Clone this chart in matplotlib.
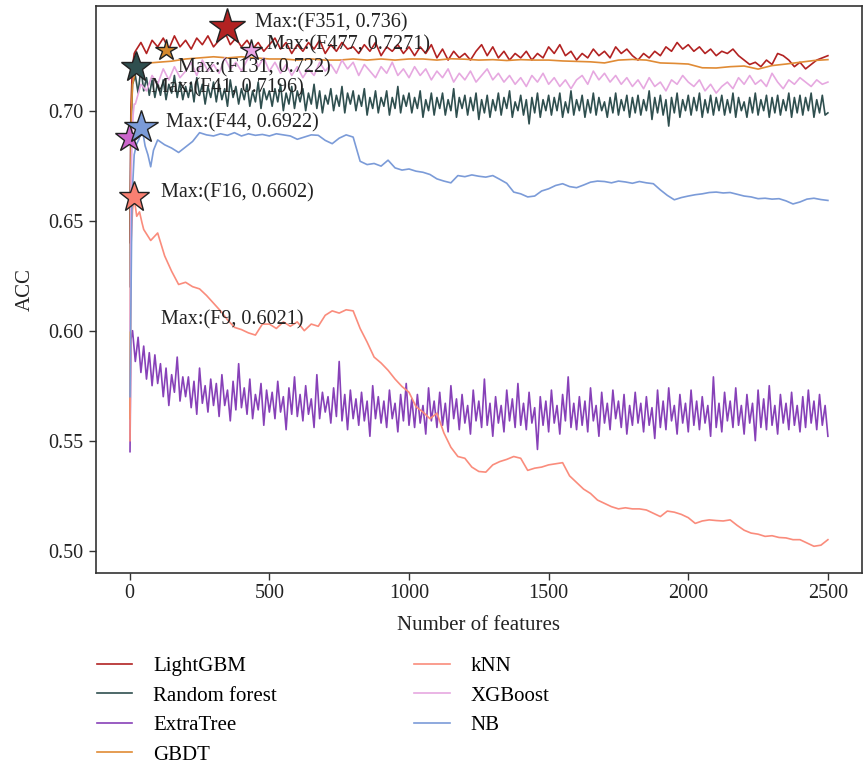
import matplotlib
matplotlib.use('Agg')
import matplotlib.pyplot as plt

plt.rcParams['font.family'] = ['Liberation Serif', 'DejaVu Serif']

# Feature counts (x) for every model
feat_dense = [1, 4] + list(range(10, 2501, 10))
feat_mid = [1, 4, 8, 12, 16] + list(range(20, 2501, 20))
feat_gbdt = [1, 3, 6, 10, 20] + list(range(50, 2501, 50))
feat_nb = [1, 8, 16, 25, 33, 44, 55, 65, 75, 85] + list(range(100, 2501, 25))
feat_knn = [1, 5, 10, 16, 25, 35, 44] + list(range(50, 2501, 25))

# ACC
acc_lightgbm = [0.640, 0.700, 0.715, 0.722, 0.726,
    0.727, 0.731, 0.726, 0.732, 0.729, 0.733, 0.728, 0.734, 0.729, 0.732,
    0.728, 0.733, 0.730, 0.734, 0.729, 0.732, 0.736, 0.730, 0.733, 0.729,
    0.732, 0.728, 0.731, 0.727, 0.730, 0.733, 0.728, 0.731, 0.726, 0.730,
    0.727, 0.731, 0.728, 0.732, 0.726, 0.730, 0.727, 0.731, 0.728, 0.729,
    0.726, 0.730, 0.727, 0.731, 0.725, 0.729, 0.727, 0.730, 0.726, 0.729,
    0.725, 0.729, 0.726, 0.730, 0.724, 0.728, 0.723, 0.727, 0.724, 0.726,
    0.723, 0.727, 0.730, 0.725, 0.729, 0.724, 0.727, 0.723, 0.726, 0.724,
    0.727, 0.723, 0.726, 0.724, 0.729, 0.726, 0.730, 0.725, 0.727, 0.723,
    0.726, 0.724, 0.728, 0.725, 0.727, 0.724, 0.729, 0.726, 0.728, 0.725,
    0.723, 0.726, 0.724, 0.727, 0.725, 0.729, 0.727, 0.731, 0.728, 0.730,
    0.727, 0.729, 0.726, 0.728, 0.725, 0.727, 0.726, 0.728, 0.725, 0.723,
    0.721, 0.722, 0.720, 0.723, 0.721, 0.726, 0.725, 0.723, 0.720, 0.722,
    0.719, 0.721, 0.723, 0.724, 0.725]

acc_rf = [0.620, 0.690,
    0.712, 0.716, 0.708, 0.7196, 0.709, 0.715, 0.707, 0.714, 0.706, 0.713,
    0.707, 0.714, 0.705, 0.712, 0.708, 0.716, 0.706, 0.713, 0.705, 0.711,
    0.706, 0.713, 0.704, 0.715, 0.707, 0.712, 0.703, 0.711, 0.706, 0.713,
    0.704, 0.712, 0.705, 0.710, 0.702, 0.714, 0.706, 0.711, 0.703, 0.710,
    0.705, 0.712, 0.702, 0.709, 0.704, 0.713, 0.701, 0.710, 0.705, 0.709,
    0.702, 0.710, 0.704, 0.712, 0.700, 0.708, 0.703, 0.711, 0.701, 0.709,
    0.704, 0.710, 0.700, 0.708, 0.703, 0.712, 0.701, 0.709, 0.699, 0.707,
    0.703, 0.710, 0.700, 0.707, 0.702, 0.711, 0.699, 0.708, 0.703, 0.709,
    0.700, 0.707, 0.702, 0.710, 0.698, 0.706, 0.701, 0.709, 0.699, 0.706,
    0.702, 0.709, 0.698, 0.706, 0.701, 0.711, 0.699, 0.707, 0.702, 0.708,
    0.699, 0.706, 0.701, 0.709, 0.697, 0.705, 0.700, 0.708, 0.698, 0.706,
    0.701, 0.708, 0.698, 0.705, 0.700, 0.710, 0.697, 0.706, 0.701, 0.707,
    0.698, 0.706, 0.700, 0.708, 0.696, 0.705, 0.699, 0.707, 0.697, 0.705,
    0.700, 0.708, 0.698, 0.706, 0.701, 0.709, 0.697, 0.704, 0.700, 0.707,
    0.698, 0.705, 0.694, 0.706, 0.699, 0.708, 0.697, 0.705, 0.700, 0.707,
    0.698, 0.706, 0.700, 0.708, 0.697, 0.704, 0.699, 0.709, 0.698, 0.705,
    0.700, 0.707, 0.697, 0.705, 0.699, 0.708, 0.698, 0.706, 0.700, 0.704,
    0.697, 0.706, 0.699, 0.708, 0.698, 0.705, 0.700, 0.707, 0.697, 0.706,
    0.699, 0.707, 0.698, 0.705, 0.700, 0.709, 0.696, 0.706, 0.699, 0.707,
    0.698, 0.705, 0.693, 0.706, 0.699, 0.708, 0.697, 0.705, 0.700, 0.707,
    0.698, 0.706, 0.700, 0.708, 0.697, 0.705, 0.699, 0.707, 0.698, 0.706,
    0.700, 0.707, 0.698, 0.705, 0.699, 0.708, 0.697, 0.706, 0.700, 0.704,
    0.697, 0.706, 0.699, 0.708, 0.698, 0.705, 0.700, 0.707, 0.697, 0.706,
    0.699, 0.707, 0.698, 0.705, 0.700, 0.708, 0.697, 0.706, 0.699, 0.707,
    0.698, 0.706, 0.700, 0.708, 0.697, 0.705, 0.699, 0.707, 0.698, 0.699]

acc_extratree = [0.545, 0.596,
    0.600, 0.586, 0.597, 0.581, 0.593, 0.578, 0.590, 0.575, 0.589, 0.576,
    0.585, 0.570, 0.583, 0.566, 0.580, 0.572, 0.588, 0.568, 0.579, 0.570,
    0.579, 0.565, 0.577, 0.562, 0.583, 0.567, 0.575, 0.563, 0.578, 0.566,
    0.576, 0.561, 0.580, 0.566, 0.573, 0.559, 0.577, 0.564, 0.585, 0.565,
    0.574, 0.562, 0.578, 0.560, 0.571, 0.564, 0.576, 0.557, 0.573, 0.563,
    0.572, 0.560, 0.577, 0.563, 0.570, 0.555, 0.574, 0.562, 0.579, 0.561,
    0.571, 0.559, 0.575, 0.562, 0.569, 0.556, 0.580, 0.560, 0.572, 0.563,
    0.570, 0.558, 0.574, 0.561, 0.586, 0.559, 0.571, 0.555, 0.573, 0.560,
    0.569, 0.557, 0.572, 0.559, 0.568, 0.552, 0.575, 0.560, 0.570, 0.558,
    0.568, 0.556, 0.573, 0.560, 0.567, 0.554, 0.571, 0.559, 0.576, 0.557,
    0.569, 0.556, 0.571, 0.558, 0.566, 0.553, 0.574, 0.559, 0.568, 0.556,
    0.572, 0.557, 0.567, 0.554, 0.575, 0.560, 0.569, 0.555, 0.571, 0.558,
    0.566, 0.553, 0.573, 0.559, 0.568, 0.556, 0.578, 0.557, 0.567, 0.552,
    0.570, 0.558, 0.566, 0.554, 0.573, 0.559, 0.569, 0.556, 0.576, 0.557,
    0.567, 0.555, 0.572, 0.558, 0.565, 0.546, 0.570, 0.557, 0.568, 0.554,
    0.573, 0.558, 0.566, 0.553, 0.571, 0.559, 0.579, 0.556, 0.567, 0.555,
    0.570, 0.557, 0.568, 0.554, 0.574, 0.559, 0.566, 0.552, 0.572, 0.558,
    0.567, 0.555, 0.573, 0.560, 0.568, 0.556, 0.571, 0.553, 0.566, 0.557,
    0.572, 0.558, 0.567, 0.554, 0.570, 0.557, 0.565, 0.551, 0.573, 0.556,
    0.568, 0.555, 0.574, 0.559, 0.566, 0.553, 0.571, 0.558, 0.567, 0.554,
    0.573, 0.557, 0.568, 0.555, 0.570, 0.558, 0.566, 0.552, 0.579, 0.556,
    0.567, 0.554, 0.572, 0.559, 0.568, 0.556, 0.574, 0.557, 0.566, 0.553,
    0.571, 0.558, 0.567, 0.550, 0.573, 0.556, 0.569, 0.555, 0.575, 0.557,
    0.566, 0.553, 0.571, 0.558, 0.567, 0.555, 0.572, 0.557, 0.566, 0.554,
    0.570, 0.556, 0.573, 0.558, 0.568, 0.555, 0.571, 0.557, 0.566, 0.552]

acc_gbdt = [0.560, 0.660, 0.700, 0.712, 0.718,
    0.7215, 0.7220, 0.7225, 0.7235, 0.7240, 0.7245, 0.7240, 0.7245, 0.7240, 0.7235,
    0.7235, 0.7230, 0.7235, 0.7230, 0.7230, 0.7235, 0.7230, 0.7235, 0.7230, 0.7235,
    0.7235, 0.7230, 0.7236, 0.7234, 0.7230, 0.7232, 0.7228, 0.7232, 0.7230, 0.7230,
    0.7226, 0.7224, 0.7222, 0.7217, 0.7230, 0.7233, 0.7230, 0.7217, 0.7215, 0.7212,
    0.7195, 0.7194, 0.7200, 0.7203, 0.7189, 0.7205, 0.7212, 0.7220, 0.7228, 0.7232]

acc_knn = [0.550, 0.640, 0.655, 0.6602, 0.652, 0.654, 0.649,
    0.646, 0.641, 0.6444, 0.634, 0.627, 0.621, 0.622, 0.620, 0.619, 0.616,
    0.6125, 0.609, 0.605, 0.6015, 0.6005, 0.599, 0.598, 0.603, 0.603, 0.601,
    0.604, 0.602, 0.604, 0.600, 0.603, 0.602, 0.607, 0.609, 0.608, 0.6095,
    0.609, 0.601, 0.5948, 0.588, 0.5853, 0.582, 0.578, 0.5746, 0.572, 0.5655,
    0.563, 0.560, 0.5625, 0.5535, 0.547, 0.5428, 0.542, 0.538, 0.536, 0.5357,
    0.539, 0.5405, 0.5415, 0.5428, 0.542, 0.5365, 0.5375, 0.538, 0.539, 0.5395,
    0.540, 0.534, 0.531, 0.528, 0.526, 0.523, 0.5215, 0.520, 0.519, 0.5195,
    0.519, 0.519, 0.5185, 0.517, 0.5155, 0.518, 0.5175, 0.5165, 0.515, 0.5124,
    0.5135, 0.514, 0.5137, 0.5135, 0.514, 0.5115, 0.5093, 0.508, 0.5075, 0.5065,
    0.5068, 0.506, 0.5058, 0.505, 0.505, 0.5035, 0.502, 0.5025, 0.505]

acc_xgboost = [0.600, 0.660, 0.686, 0.698, 0.703,
    0.703, 0.712, 0.709, 0.716, 0.712, 0.719, 0.714, 0.720, 0.715, 0.718,
    0.722, 0.716, 0.723, 0.718, 0.721, 0.717, 0.724, 0.719, 0.722, 0.718,
    0.723, 0.7271, 0.720, 0.724, 0.718, 0.722, 0.717, 0.721, 0.716, 0.720,
    0.715, 0.719, 0.716, 0.722, 0.718, 0.721, 0.717, 0.723, 0.719, 0.722,
    0.716, 0.721, 0.718, 0.715, 0.720, 0.717, 0.722, 0.716, 0.719, 0.715,
    0.720, 0.716, 0.719, 0.714, 0.718, 0.715, 0.719, 0.713, 0.717, 0.714,
    0.718, 0.713, 0.716, 0.719, 0.714, 0.717, 0.713, 0.716, 0.712, 0.715,
    0.711, 0.716, 0.713, 0.717, 0.712, 0.715, 0.711, 0.714, 0.710, 0.714,
    0.716, 0.712, 0.718, 0.714, 0.717, 0.713, 0.716, 0.712, 0.715, 0.711,
    0.714, 0.710, 0.715, 0.711, 0.713, 0.709, 0.714, 0.712, 0.716, 0.713,
    0.711, 0.714, 0.709, 0.712, 0.708, 0.711, 0.713, 0.710, 0.715, 0.712,
    0.716, 0.712, 0.714, 0.711, 0.717, 0.713, 0.710, 0.714, 0.712, 0.715,
    0.713, 0.711, 0.714, 0.712, 0.713]

acc_nb = [0.570, 0.660, 0.680, 0.685, 0.687, 0.6922, 0.684, 0.680, 0.6745, 0.682,
    0.6867, 0.6845, 0.6830, 0.6810, 0.6835, 0.6860, 0.6900, 0.6890, 0.6885, 0.6895,
    0.6888, 0.6900, 0.6885, 0.6895, 0.6888, 0.6892, 0.6885, 0.6895, 0.6890, 0.6885,
    0.6870, 0.6880, 0.6890, 0.6888, 0.6865, 0.6850, 0.6875, 0.6890, 0.6880, 0.6770,
    0.6755, 0.6760, 0.6748, 0.6775, 0.6740, 0.6730, 0.6735, 0.6725, 0.6720, 0.6710,
    0.6690, 0.6680, 0.6672, 0.6705, 0.6700, 0.6708, 0.6702, 0.6698, 0.6705, 0.6688,
    0.6670, 0.6630, 0.6622, 0.6608, 0.6612, 0.6635, 0.6645, 0.6660, 0.6668, 0.6655,
    0.6650, 0.6662, 0.6675, 0.6680, 0.6678, 0.6672, 0.6680, 0.6676, 0.6670, 0.6678,
    0.6672, 0.6668, 0.6640, 0.6615, 0.6595, 0.6605, 0.6612, 0.6618, 0.6622, 0.6628,
    0.6630, 0.6626, 0.6628, 0.6620, 0.6612, 0.6608, 0.6600, 0.6602, 0.6598, 0.6600,
    0.6590, 0.6576, 0.6585, 0.6598, 0.6602, 0.6596, 0.6592]

model_names = ['LightGBM', 'Random forest', 'ExtraTree', 'GBDT', 'kNN', 'XGBoost', 'NB']
model_feats = [feat_mid, feat_dense, feat_dense, feat_gbdt, feat_knn, feat_mid, feat_nb]
model_accs = [acc_lightgbm, acc_rf, acc_extratree, acc_gbdt, acc_knn, acc_xgboost, acc_nb]
line_colors = ['#b22222', '#2f4f4f', '#8741b8', '#e08b35', '#fa8c7c', '#e6a8e0', '#7b9bd8']

# Max labels and where the stars sit on the chart
max_labels = ['Max:(F351, 0.736)', 'Max:(F41, 0.7196)', 'Max:(F9, 0.6021)', 'Max:(F131, 0.722)',
              'Max:(F16, 0.6602)', 'Max:(F477, 0.7271)', 'Max:(F44, 0.6922)']
star_feat = [349, 21, -2, 129, 15, 433, 39]
star_acc = [0.738, 0.720, 0.6876, 0.7276, 0.6609, 0.7276, 0.6927]
star_colors = ['#b22222', '#2f4f4f', '#cc66cc', '#d4892e', '#fa8072', '#eaa6e6', '#7b9bd8']
star_sizes = [27, 23, 21, 16, 23, 16, 25]
label_pos = [(448, 0.7399), (76, 0.7103), (112, 0.6049), (173, 0.7194),
             (112, 0.6626), (492, 0.7299), (130, 0.6944)]

fig = plt.figure(figsize=(8.65, 7.65), dpi=100)
ax = fig.add_axes([0.1106, 0.2514, 0.8859, 0.7411])

handles = []
for name, fx, acc, c in zip(model_names, model_feats, model_accs, line_colors):
    h, = ax.plot(fx, acc, color=c, linewidth=1.2, label=name)
    handles.append(h)

for fx, acc, c, ms in zip(star_feat, star_acc, star_colors, star_sizes):
    ax.plot(fx, acc, marker='*', markersize=ms, color=c, markeredgecolor='#222222',
            markeredgewidth=1.0, linestyle='none', zorder=5)

for txt, (tx, ty) in zip(max_labels, label_pos):
    ax.text(tx, ty, txt, fontsize=14.5, color='#222222', ha='left', va='center', zorder=6)

ax.set_xlim(-122, 2622)
ax.set_ylim(0.49, 0.7477)
ax.set_xticks([0, 500, 1000, 1500, 2000, 2500])
ax.set_yticks([0.50, 0.55, 0.60, 0.65, 0.70])
ax.set_yticklabels(['0.50', '0.55', '0.60', '0.65', '0.70'])
ax.tick_params(labelsize=14.5, length=5, width=1.0, color='#333333', labelcolor='#222222')
for sp in ax.spines.values():
    sp.set_color('#333333')
    sp.set_linewidth(1.2)

ax.set_xlabel('Number of features', fontsize=15, color='#222222', labelpad=9)
ax.set_ylabel('ACC', fontsize=15, color='#222222', labelpad=10)

fig.legend(handles=handles, loc='upper left', bbox_to_anchor=(0.112, 0.142), ncol=2,
           frameon=False, fontsize=15, handlelength=1.7, handletextpad=1.0,
           columnspacing=6.6, labelspacing=0.48, borderpad=0, borderaxespad=0)

fig.savefig('out.png', dpi=100)
